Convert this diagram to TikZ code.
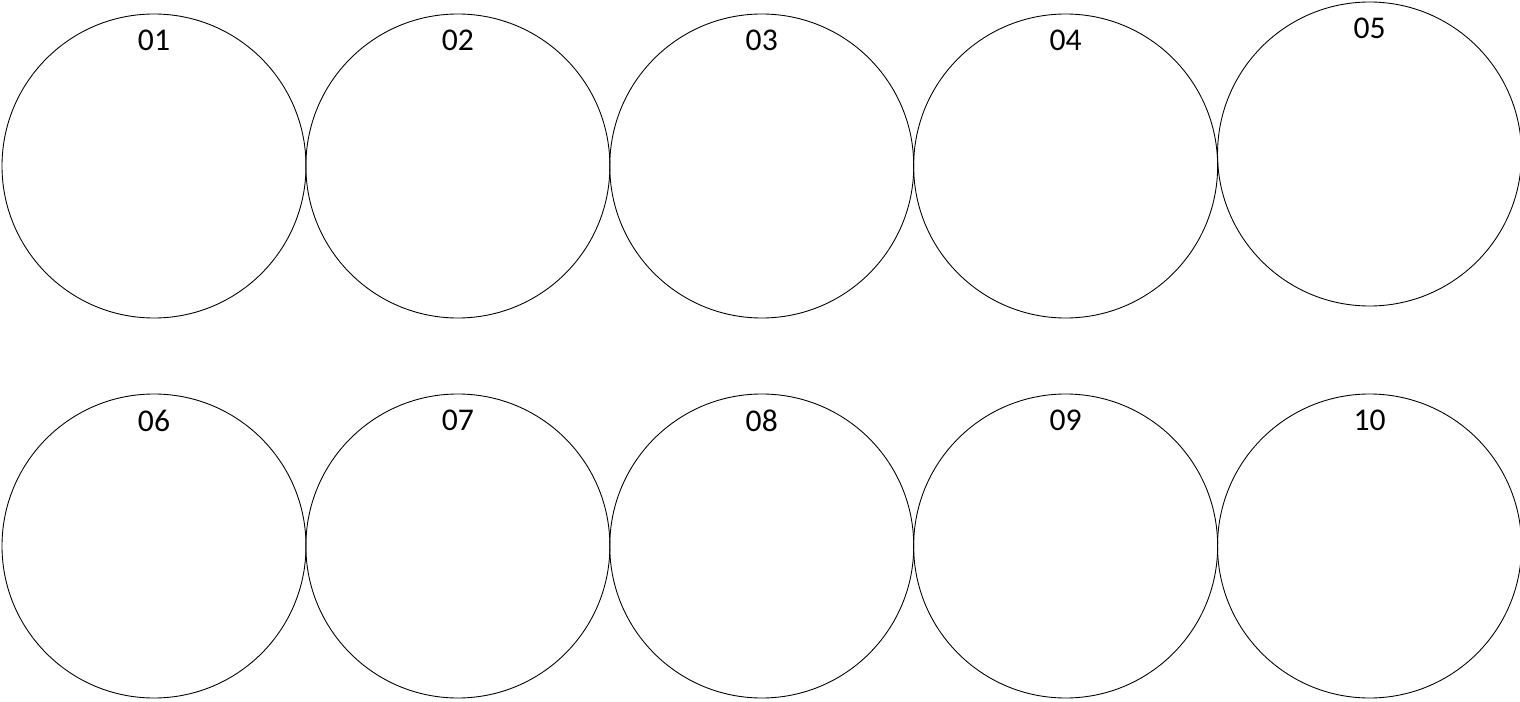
\documentclass[tikz,border=0pt]{standalone}
\usepackage{fontspec}
\setmainfont{Carlito}
\usetikzlibrary{positioning}
\tikzset{
  cell/.style={circle, draw, line width=0.5pt, inner sep=0pt,
               minimum size=6.08cm},
  numlbl/.style={font=\fontsize{18}{20}\selectfont, inner sep=0pt}
}
\begin{document}
\begin{tikzpicture}[node distance=-0.02cm]
  \useasboundingbox (0,0) rectangle (30.4,14.02);
  % top row
  \node[cell] (c1) at (3.08,10.70) {};
  \node[cell, right=of c1] (c2) {};
  \node[cell, right=of c2] (c3) {};
  \node[cell, right=of c3] (c4) {};
  \node[cell, right=of c4, yshift=0.24cm] (c5) {};
  % bottom row
  \node[cell] (c6) at (3.08,3.10) {};
  \node[cell, right=of c6] (c7) {};
  \node[cell, right=of c7] (c8) {};
  \node[cell, right=of c8] (c9) {};
  \node[cell, right=of c9] (c10) {};
  % numbers
  \node[numlbl, below=0.32cm of c1.north] (l1) {01};
  \node[numlbl, below=0.32cm of c2.north] (l2) {02};
  \node[numlbl, below=0.32cm of c3.north] (l3) {03};
  \node[numlbl, below=0.32cm of c4.north] (l4) {04};
  \node[numlbl, below=0.32cm of c5.north] (l5) {05};
  \node[numlbl, below=0.32cm of c6.north] (l6) {06};
  \node[numlbl, below=0.32cm of c7.north] (l7) {07};
  \node[numlbl, below=0.32cm of c8.north] (l8) {08};
  \node[numlbl, below=0.32cm of c9.north] (l9) {09};
  \node[numlbl, below=0.32cm of c10.north] (l10) {10};
\end{tikzpicture}
\end{document}
